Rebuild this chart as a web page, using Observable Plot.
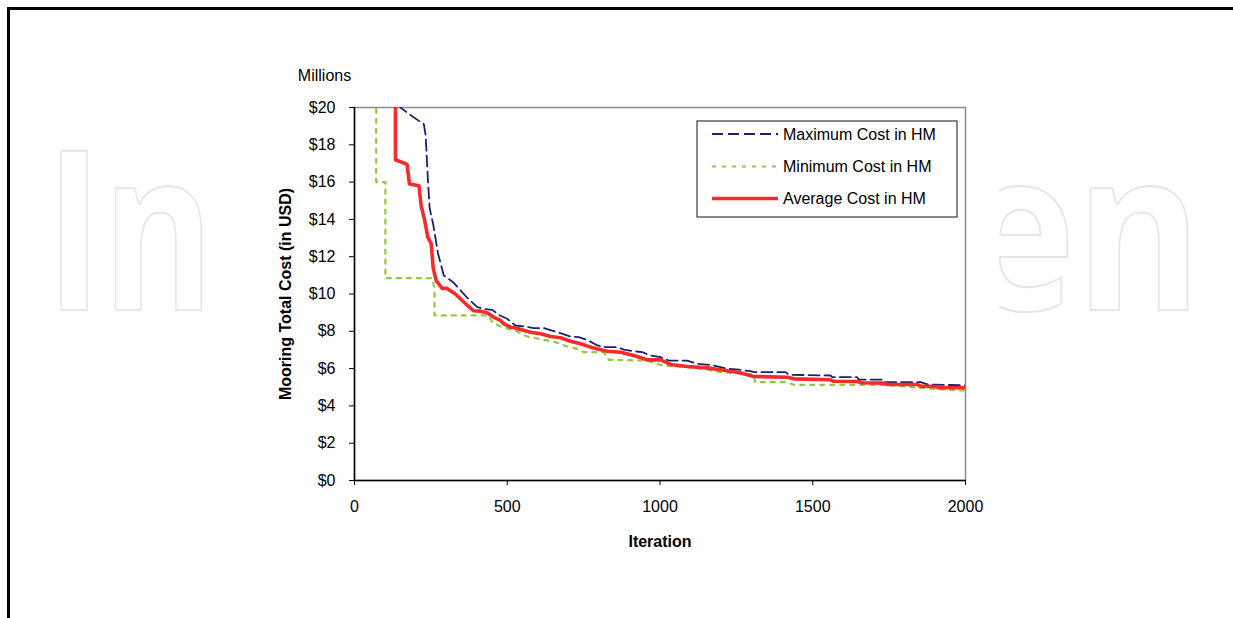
<!DOCTYPE html>
<html><head><meta charset="utf-8">
<script src="https://cdn.jsdelivr.net/npm/d3@7"></script>
<script src="https://cdn.jsdelivr.net/npm/@observablehq/plot@0.6"></script>
<style>
html,body{margin:0;padding:0;background:#fff;}
#wrap{position:relative;width:1233px;height:618px;overflow:hidden;}
#border{position:absolute;left:7px;top:7px;width:1240px;height:620px;border-top:3px solid #000;border-left:3px solid #000;pointer-events:none;}
</style></head><body>
<div id="wrap"><div id="chart"></div><div id="border"></div></div>
<script>
// ---- data ----
const seriesNames = ["Maximum Cost in HM", "Minimum Cost in HM", "Average Cost in HM"];

const maxIter = [130, 150, 183, 227, 233, 240, 246, 258, 273, 292, 325, 369, 402, 423, 451, 472, 500, 527, 554, 587, 620, 647, 674, 707, 734, 762, 795, 822, 860, 882, 914, 942, 969, 1002, 1029, 1089, 1122, 1176, 1220, 1258, 1296, 1307, 1411, 1422, 1558, 1564, 1645, 1651, 1733, 1738, 1853, 1875, 2000];
const maxCost = [21, 20.0, 19.6, 19.1, 18.5, 16.2, 14.6, 13.7, 12.2, 11.0, 10.6, 9.8, 9.3, 9.2, 9.15, 8.88, 8.67, 8.31, 8.26, 8.17, 8.17, 8.04, 7.9, 7.72, 7.69, 7.54, 7.24, 7.15, 7.15, 7.02, 6.93, 6.88, 6.7, 6.61, 6.43, 6.43, 6.26, 6.17, 5.99, 5.94, 5.86, 5.81, 5.81, 5.67, 5.63, 5.54, 5.54, 5.41, 5.41, 5.27, 5.27, 5.15, 5.1];

const minIter = [71, 71, 101, 101, 254, 262, 262, 439, 451, 478, 505, 532, 565, 603, 658, 696, 729, 751, 816, 833, 958, 1007, 1089, 1138, 1198, 1305, 1312, 1416, 1438, 1733, 1760, 1885, 1984, 2000];
const minCost = [21, 16, 16, 10.85, 10.85, 10.3, 8.85, 8.85, 8.49, 8.26, 8.13, 8.0, 7.72, 7.6, 7.42, 7.18, 7.06, 6.88, 6.88, 6.47, 6.43, 6.17, 6.08, 5.99, 5.81, 5.7, 5.27, 5.27, 5.13, 5.13, 5.1, 4.92, 4.83, 4.83];

const avgIter = [134, 134, 172, 180, 211, 218, 229, 240, 251, 258, 268, 287, 303, 330, 369, 390, 412, 434, 456, 478, 489, 511, 521, 576, 609, 642, 674, 707, 740, 773, 827, 871, 914, 958, 1002, 1034, 1089, 1154, 1198, 1231, 1264, 1307, 1416, 1438, 1558, 1569, 1645, 1662, 1733, 1744, 1842, 1853, 1902, 1913, 2000];
const avgCost = [21, 17.2, 16.95, 15.9, 15.8, 14.75, 14.0, 13.05, 12.7, 11.35, 10.7, 10.3, 10.3, 10.0, 9.4, 9.1, 9.08, 9.0, 8.75, 8.58, 8.4, 8.22, 8.2, 7.95, 7.87, 7.72, 7.65, 7.47, 7.33, 7.15, 6.93, 6.88, 6.7, 6.47, 6.47, 6.22, 6.11, 6.04, 5.94, 5.86, 5.76, 5.58, 5.54, 5.45, 5.4, 5.32, 5.31, 5.24, 5.22, 5.15, 5.15, 5.06, 5.04, 4.97, 4.97];

const xTicks = [0, 500, 1000, 1500, 2000];
const yTicks = [0, 2, 4, 6, 8, 10, 12, 14, 16, 18, 20];
const xTitle = "Iteration";
const yTitle = "Mooring Total Cost (in USD)";
const unitLabel = "Millions";
// watermark fragments visible outside the chart area
const watermarkParts = ["In", "en"];

// ---- build table ----
const rows = [];
maxIter.forEach((it, i) => rows.push({series: seriesNames[0], iter: it, cost: maxCost[i]}));
minIter.forEach((it, i) => rows.push({series: seriesNames[1], iter: it, cost: minCost[i]}));
avgIter.forEach((it, i) => rows.push({series: seriesNames[2], iter: it, cost: avgCost[i]}));

const styles = {
  [seriesNames[0]]: {stroke: "#1f1f6e", strokeWidth: 1.8, strokeDasharray: "11,5"},
  [seriesNames[1]]: {stroke: "#92c83e", strokeWidth: 2.2, strokeDasharray: "4,6"},
  [seriesNames[2]]: {stroke: "#f52a2a", strokeWidth: 3.6, strokeDasharray: null}
};
const lineMark = (name) => Plot.line(rows.filter(d => d.series === name), {
  x: "iter", y: "cost", clip: true,
  stroke: styles[name].stroke, strokeWidth: styles[name].strokeWidth,
  strokeDasharray: styles[name].strokeDasharray, strokeLinejoin: "round"
});

const chart = Plot.plot({
  width: 1233, height: 618,
  marginLeft: 354, marginRight: 268, marginTop: 107, marginBottom: 138,
  style: {fontFamily: "'Liberation Sans', Arial, sans-serif", fontSize: "16px", color: "#000", background: "transparent", overflow: "visible"},
  x: {domain: [0, 2000]},
  y: {domain: [0, 20]},
  marks: [
    Plot.frame({fill: "white", stroke: "#8c8c8c", strokeWidth: 1.5}),
    Plot.axisY({ticks: yTicks, tickFormat: d => "$" + d, tickSize: 5, tickPadding: 14, fontSize: 16, label: null, stroke: "#000"}),
    Plot.axisX({ticks: xTicks, tickFormat: d => String(d), tickSize: 5, tickPadding: 15, fontSize: 16, label: null, stroke: "#000"}),
    Plot.ruleX([0], {stroke: "#000", strokeWidth: 1.5}),
    Plot.ruleY([0], {stroke: "#000", strokeWidth: 1.5}),
    lineMark(seriesNames[1]),
    lineMark(seriesNames[0]),
    lineMark(seriesNames[2]),
    Plot.text([yTitle], {text: d => d, frameAnchor: "left", dx: -69, rotate: -90, textAnchor: "middle", lineAnchor: "middle", fontWeight: "bold", fontSize: 16}),
    Plot.text([xTitle], {text: d => d, frameAnchor: "bottom", dy: 61, textAnchor: "middle", lineAnchor: "middle", fontWeight: "bold", fontSize: 16}),
    Plot.text([unitLabel], {text: d => d, frameAnchor: "top-left", dx: -30, dy: -32, textAnchor: "middle", lineAnchor: "middle", fontSize: 16})
  ]
});
document.getElementById("chart").appendChild(chart);

// ---- watermark (behind the chart area) ----
const svg = d3.select(chart);
const wm = svg.insert("g", ":first-child").attr("class", "watermark")
  .attr("font-family", "'Open Sans', sans-serif").attr("font-weight", 700).attr("font-size", 222)
  .attr("fill", "none").attr("stroke", "#e6e6e6").attr("stroke-width", 2);
wm.append("text").attr("x", 46).attr("y", 310).attr("text-anchor", "start")
  .attr("textLength", 168).attr("lengthAdjust", "spacingAndGlyphs").text(watermarkParts[0]);
wm.append("text").attr("x", 1202).attr("y", 310).attr("text-anchor", "end")
  .attr("textLength", 240).attr("lengthAdjust", "spacingAndGlyphs").text(watermarkParts[1]);
wm.append("rect").attr("x", 253).attr("y", 20).attr("width", 746).attr("height", 590).attr("fill", "white").attr("stroke", "none");

// ---- legend ----
const lg = svg.append("g").attr("class", "legend").attr("font-family", "'Liberation Sans', Arial, sans-serif").attr("font-size", 16).attr("text-anchor", "start");
lg.append("rect").attr("x", 697).attr("y", 121).attr("width", 260).attr("height", 96)
  .attr("fill", "white").attr("stroke", "#3a3a3a").attr("stroke-width", 1.2);
const rowY = [134, 166.5, 198.5];
seriesNames.forEach((name, i) => {
  const s = styles[name];
  lg.append("line").attr("x1", 712).attr("x2", 778).attr("y1", rowY[i]).attr("y2", rowY[i])
    .attr("stroke", s.stroke).attr("stroke-width", s.strokeWidth).attr("stroke-dasharray", s.strokeDasharray);
  lg.append("text").attr("x", 783).attr("y", rowY[i]).attr("dy", "0.35em").attr("fill", "#000").text(name);
});
</script>
</body></html>
